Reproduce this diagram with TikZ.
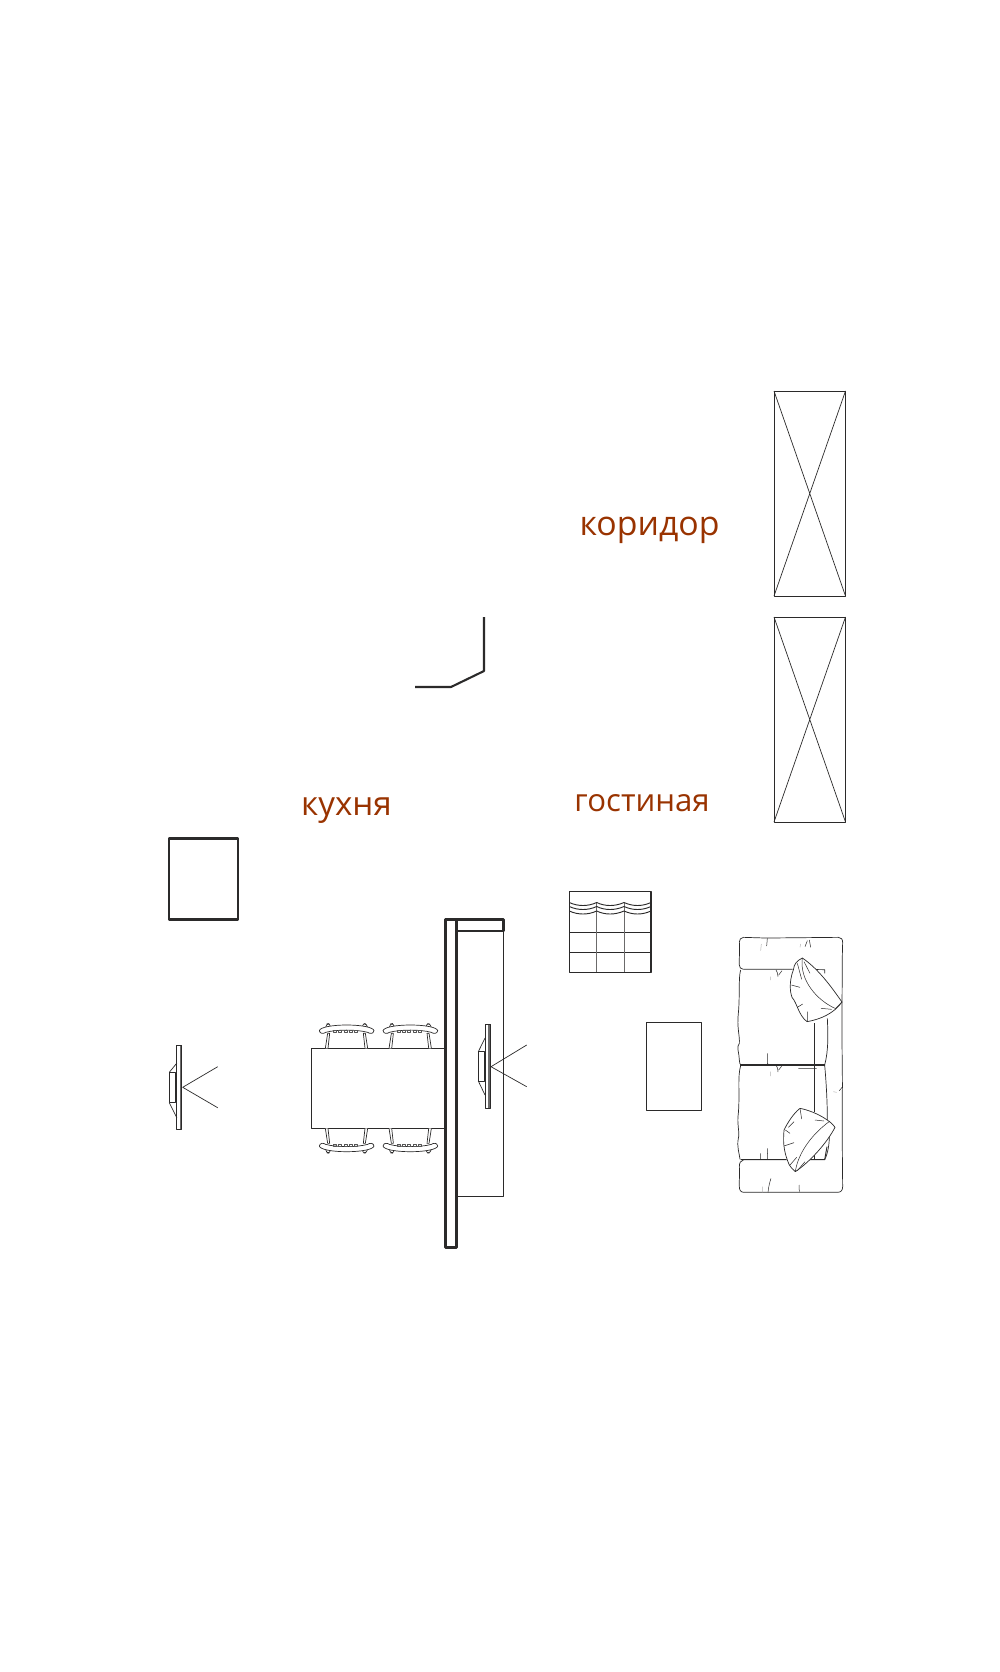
\documentclass[tikz,border=0pt]{standalone}
\usepackage{fontspec}
\setmainfont{Open Sans}
\definecolor{lab}{HTML}{993300}
\definecolor{ink}{HTML}{2B2A2A}
\tikzset{
 thin line/.style={draw=ink,line width=0.42pt},
 thick wall/.style={draw=ink,line width=1.6pt},
 room/.style={text=lab,inner sep=0pt,anchor=center},
}
\begin{document}
\begin{tikzpicture}[x=0.6pt,y=-0.6pt,line join=round]
\useasboundingbox[fill=white] (0,0) rectangle (1000,1672);
% doors
\foreach \t/\b in {391/596,617/822}{
 \draw[thin line] (774,\t) rectangle (845.5,\b);
 \draw[thin line] (774,\t) -- (845.5,\b) (845.5,\t) -- (774,\b);
}
% labels
\node[room,font=\fontsize{20.3pt}{22pt}\selectfont] (lc) at (649.5,530.5) {коридор};
\node[room,font=\fontsize{19.9pt}{22pt}\selectfont] (lk) at (346.5,810.5) {кухня};
\node[room,font=\fontsize{18.7pt}{22pt}\selectfont] (lg) at (642,803.5) {гостиная};
% corner wall
\draw[thick wall,line width=1.25pt] (484,617) -- (484,671) -- (451,687) -- (415,687);
% box
\draw[thick wall,line width=1.4pt] (169,838.5) rectangle (238.2,919.5);
% wall
\draw[thin line,line width=0.55pt] (457,931) rectangle (503.3,1196);
\draw[thick wall] (445.7,919.5) rectangle (456.8,1247.5);
\draw[thick wall] (456.8,919.5) rectangle (503.3,931);
% table
\draw[thin line] (311.3,1048) rectangle (445,1128);
% rug
\draw[thin line] (646,1022.5) rectangle (701.5,1110);
% cabinet
\draw[draw=ink,line width=0.7pt] (569.6,891.3) rectangle (651,972.3);
\draw[thin line] (569.3,932.3) -- (651,932.3) (569.3,952.3) -- (651,952.3);
\draw[draw=ink!70,line width=0.55pt] (596.7,903) -- (596.7,972.3) (624,903) -- (624,972.3);
\foreach \d in {0,4,8.5}{
 \draw[draw=ink,line width=0.55pt] (569.3,902.5+\d) .. controls (578,906.5+\d) and (588,906.5+\d) .. (596.7,902.5+\d)
   .. controls (605,906.5+\d) and (615,906.5+\d) .. (624,902.5+\d)
   .. controls (633,906.5+\d) and (642,906.5+\d) .. (651,902.5+\d);
}
% TV right
\fill[ink!70] (488,1024.3) rectangle (490.7,1108.3);
\draw[thin line,line width=0.5pt] (485,1024.3) rectangle (490.7,1108.3);
\draw[thin line] (478.3,1051.7) rectangle (484,1081);
\draw[thin line] (478.3,1051.7) -- (485,1038) (478.3,1081) -- (485,1095);
\draw[thin line] (526.7,1045) -- (491,1066.7) -- (526.7,1086.7);
% TV left
\fill[ink!70] (179.5,1045) rectangle (181.7,1129);
\draw[thin line,line width=0.5pt] (176.9,1045) rectangle (181.7,1129);
\draw[thin line] (169.3,1072.3) rectangle (175,1102.7);
\draw[thin line] (169.3,1072.3) -- (176.9,1063) (169.3,1102.7) -- (176.9,1118);
\draw[thin line] (217.7,1066.7) -- (182.7,1087.3) -- (217.7,1107.7);
% chairs
\foreach \sx/\sy/\my in {300/1000/1,363.7/1000/1,300/1176.7/-1,363.7/1176.7/-1}{
\begin{scope}[shift={(\sx,\sy)},x=0.2pt,y=-0.2pt*\my]
 \draw[thin line,fill=white] (76,145) -- (83,100) -- (89,100) -- (84,145) (203,145) -- (196,100) -- (190,100) -- (195,145);
 \draw[thin line,fill=white,rounded corners=2pt] (77,86) -- (77,72) -- (91,70) -- (92,86) (187,86) -- (187,70) -- (202,72) -- (203,86);
 \draw[thin line,fill=white] (58,92) .. controls (60,82) and (95,75) .. (140,75) .. controls (185,75) and (220,82) .. (222,92)
   .. controls (220,102) and (210,102) .. (203,97) .. controls (170,88) and (110,88) .. (77,97) .. controls (70,102) and (60,102) .. (58,92) -- cycle;
 \foreach \k in {100,116,132,148,164}{
   \draw[draw=ink!80,line width=0.3pt] (\k,90) rectangle (\k+9,98);
 }
\end{scope}}
% sofa
\begin{scope}[shift={(720,920)},x=0.2pt,y=-0.2pt]
 \draw[thin line] (70,52) .. controls (62,52) and (58,60) .. (58,66) .. controls (60,90) and (57,115) .. (58,135)
  .. controls (58,142) and (62,147) .. (70,148)
  (70,52) -- (135,54) .. controls (140,55) and (142,55) .. (147,54) -- (355,52) .. controls (364,52) and (368,58) .. (368,68)
  .. controls (366,120) and (367,180) .. (366,246) .. controls (365,350) and (368,500) .. (367,510) .. controls (366,600) and (367,700) .. (368,800)
  .. controls (368,812) and (362,817) .. (352,817) -- (245,817) .. controls (240,815) and (238,815) .. (233,817) -- (72,817)
  .. controls (62,817) and (58,810) .. (58,800) .. controls (57,780) and (60,760) .. (58,740) .. controls (58,728) and (62,722) .. (70,720);
 % cushions
 \draw[thin line] (70,148) -- (218,148) (232,148) -- (314,149) -- (314,160);
 \draw[thin line] (62,150) .. controls (55,170) and (60,230) .. (55,280) .. controls (50,320) and (60,350) .. (58,370) .. controls (48,380) and (58,400) .. (58,420) .. controls (58,428) and (60,432) .. (62,435);
 \draw[thin line,line width=0.65pt] (60,435) -- (314,435);
 \draw[thin line] (62,437) .. controls (52,470) and (60,520) .. (55,580) .. controls (50,610) and (60,640) .. (55,655) .. controls (50,680) and (58,700) .. (60,718);
 \draw[thin line,line width=0.55pt] (62,719) -- (200,719) (270,719) -- (314,719) -- (321,680);
 \draw[thin line,line width=0.55pt] (283,310) -- (283,575) (283,700) -- (283,719);
 \draw[thin line] (322,295) .. controls (324,340) and (326,390) .. (314,435) .. controls (318,480) and (322,540) .. (322,600)
   (328,650) .. controls (328,670) and (324,700) .. (314,719);
 \draw[draw=ink,line width=0.3pt] (142,55) -- (140,78) (142,400) -- (142,430) .. controls (144,436) and (150,435) .. (152,435)
   (168,435) .. controls (172,440) and (173,445) .. (174,456) (176,450) -- (186,437)
   (168,150) .. controls (172,155) and (173,160) .. (174,170) (176,165) -- (186,152)
   (142,685) -- (143,718) (122,700) -- (122,718)
   (153,775) .. controls (148,790) and (146,800) .. (144,817)
   (237,795) -- (238,815) (368,500) -- (358,512)
   (268,60) -- (272,82) (262,62) -- (255,80) (235,445) -- (290,445);
 \draw[draw=ink!35,line width=0.3pt] (124,72) -- (122,92) (152,170) -- (152,180) (152,455) -- (152,468) (128,800) -- (128,817) (340,515) -- (350,517) (242,72) -- (240,82);
 % pillow top
 \draw[thin line,fill=white] (247,114) .. controls (232,122) and (222,130) .. (220,150) .. controls (212,170) and (206,205) .. (216,232)
   .. controls (232,250) and (235,285) .. (261,305) .. controls (300,298) and (340,282) .. (366,246)
   .. controls (340,210) and (300,150) .. (247,114) -- cycle;
 \draw[draw=ink,line width=0.3pt] (247,114) .. controls (238,180) and (290,240) .. (345,265)
  (232,130) -- (245,178) (252,125) -- (270,160) (214,195) -- (240,202) (232,262) -- (248,252) (262,303) -- (262,275) (303,265) -- (335,268) (346,266) -- (366,246);
 % pillow bottom
 \draw[thin line,fill=white] (240,565) .. controls (220,580) and (202,610) .. (192,630) .. controls (190,660) and (188,690) .. (208,735)
  .. controls (215,745) and (220,750) .. (226,755) .. controls (270,725) and (320,670) .. (345,622)
  .. controls (335,605) and (290,575) .. (240,565) -- cycle;
 \draw[draw=ink,line width=0.3pt] (226,755) .. controls (232,710) and (265,650) .. (330,603)
  (240,565) -- (245,597) (285,600) -- (312,603) (205,622) -- (222,605) (192,678) -- (222,668) (210,735) -- (230,712) (232,752) -- (255,725) (196,630) -- (210,640);
\end{scope}
\end{tikzpicture}
\end{document}
